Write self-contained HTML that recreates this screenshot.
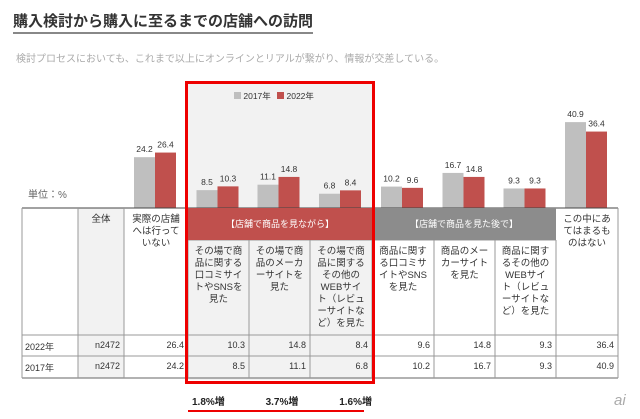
<!DOCTYPE html>
<html><head><meta charset="utf-8"><style>
body{margin:0;width:640px;height:419px;background:#fff;position:relative;overflow:hidden;font-family:"Liberation Sans","Noto Sans CJK JP",sans-serif;}
.a{position:absolute}
.t{font-size:9.5px;color:#333;line-height:12px;text-align:center}
.n{font-size:9px;color:#333;text-align:right}
</style></head><body>
<div class="a" style="left:13px;top:10px;font-size:15px;font-weight:bold;color:#333;border-bottom:2px solid #888;padding-bottom:1px">購入検討から購入に至るまでの店舗への訪問</div>
<div class="a" style="left:16px;top:50px;font-size:10px;color:#aaa">検討プロセスにおいても、これまで以上にオンラインとリアルが繋がり、情報が交差している。</div>
<div class="a" style="left:188px;top:84px;width:184px;height:296px;background:#f2f2f2"></div>
<div class="a" style="left:78px;top:208px;width:46px;height:170px;background:#f2f2f2"></div>
<div class="a" style="left:28px;top:186px;font-size:10px;color:#666">単位：%</div>
<div class="a" style="left:234px;top:90px;font-size:8.5px;color:#333"><span style="display:inline-block;width:7px;height:7px;background:#bfbfbf"></span> 2017年 <span style="display:inline-block;width:7px;height:7px;background:#c0504d;margin-left:4px"></span> 2022年</div>
<svg class="a" id="chart" style="left:0;top:0" width="640" height="419"></svg>
<div class="a" style="left:188px;top:208px;width:184px;height:32px;background:#c0504d;color:#fff;font-size:9px;line-height:32px;text-align:center">【店舗で商品を見ながら】</div>
<div class="a" style="left:372px;top:208px;width:184px;height:32px;background:#8c8c8c;color:#fff;font-size:9px;line-height:32px;text-align:center">【店舗で商品を見た後で】</div>
<div id="tbl"></div>
<div class="a" style="left:185px;top:81px;width:184px;height:297px;border:3px solid #e00"></div>
<div class="a" style="left:192px;top:393px;width:180px;font-size:10px;font-weight:bold;color:#222;display:flex;justify-content:space-between"><span>1.8%増</span><span>3.7%増</span><span>1.6%増</span></div>
<div class="a" style="left:188px;top:410px;width:176px;height:2px;background:#e00"></div>
<div class="a" style="left:614px;top:392px;font-size:15px;font-style:italic;color:#aaa">ai</div>
<script>
const categories=["実際の店舗へは行っていない","口コミサイトやSNS(見ながら)","メーカーサイト(見ながら)","その他WEB(見ながら)","口コミサイトやSNS(後で)","メーカーサイト(後で)","その他WEB(後で)","この中にあてはまるものはない"];
const values2017=[24.2,8.5,11.1,6.8,10.2,16.7,9.3,40.9];
const values2022=[26.4,10.3,14.8,8.4,9.6,14.8,9.3,36.4];
const colEdges=[22,78,124,188,249,310,372,434,495,556,618];
const base=208,scale=2.1;
const y=v=>base-v*scale;
const svg=document.getElementById('chart');
const NS='http://www.w3.org/2000/svg';
function mk(tag,attrs){const e=document.createElementNS(NS,tag);for(const k in attrs)e.setAttribute(k,attrs[k]);svg.appendChild(e);return e;}
categories.forEach((c,i)=>{
 const cx=(colEdges[i+2]+colEdges[i+3])/2;
 const g=mk('rect',{x:cx-22,y:y(values2017[i]),width:21,height:values2017[i]*scale,fill:'#bfbfbf'});
 
 const r=mk('rect',{x:cx-1,y:y(values2022[i]),width:21,height:values2022[i]*scale,fill:'#c0504d'});
 
 const t1=mk('text',{x:cx-11.5,y:y(values2017[i])-5,'font-size':8.5,'text-anchor':'middle',fill:'#333'});t1.textContent=values2017[i];
 
 const t2=mk('text',{x:cx+9.5,y:y(values2022[i])-5,'font-size':8.5,'text-anchor':'middle',fill:'#333'});t2.textContent=values2022[i];
 
});
const L=(x1,y1,x2,y2,c)=>{const l=mk('line',{x1,y1,x2,y2,stroke:c||'#888','stroke-width':1});};
L(22,208,618,208,'#444');L(22,335,618,335,'#999');L(22,356,618,356,'#999');L(22,378,618,378,'#666');
colEdges.forEach((x,i)=>{const top=(i>=4&&i<=9&&i!==6)?240:208;L(x,top,x,378,'#999');});
L(188,240,556,240,'#999');
const heads=["","全体","実際の店舗へは行っていない","その場で商品に関する口コミサイトやSNSを見た","その場で商品のメーカーサイトを見た","その場で商品に関するその他のWEBサイト（レビューサイトなど）を見た","商品に関する口コミサイトやSNSを見た","商品のメーカーサイトを見た","商品に関するその他のWEBサイト（レビューサイトなど）を見た","この中にあてはまるものはない"];
const r22=["2022年","n2472",...values2022];
const r17=["2017年","n2472",...values2017];
const tb=document.getElementById('tbl');
heads.forEach((h,i)=>{
 const x=colEdges[i],w=colEdges[i+1]-x;
 const top=(i>=3&&i<=8)?246:214;
 const d=document.createElement('div');d.className='a t';
 
 
 d.style.cssText=`left:${x+6}px;top:${top}px;width:${w-12}px;`;d.textContent=h;tb.appendChild(d);
 [[r22,340],[r17,361]].forEach(([row,yy])=>{
  const e=document.createElement('div');e.className='a n';
  
  
  e.style.cssText=`left:${x+3}px;top:${yy}px;width:${w-7}px;`+(i==0?'text-align:left;':'');
  e.textContent=row[i];tb.appendChild(e);
 });
});
</script>
</body></html>
